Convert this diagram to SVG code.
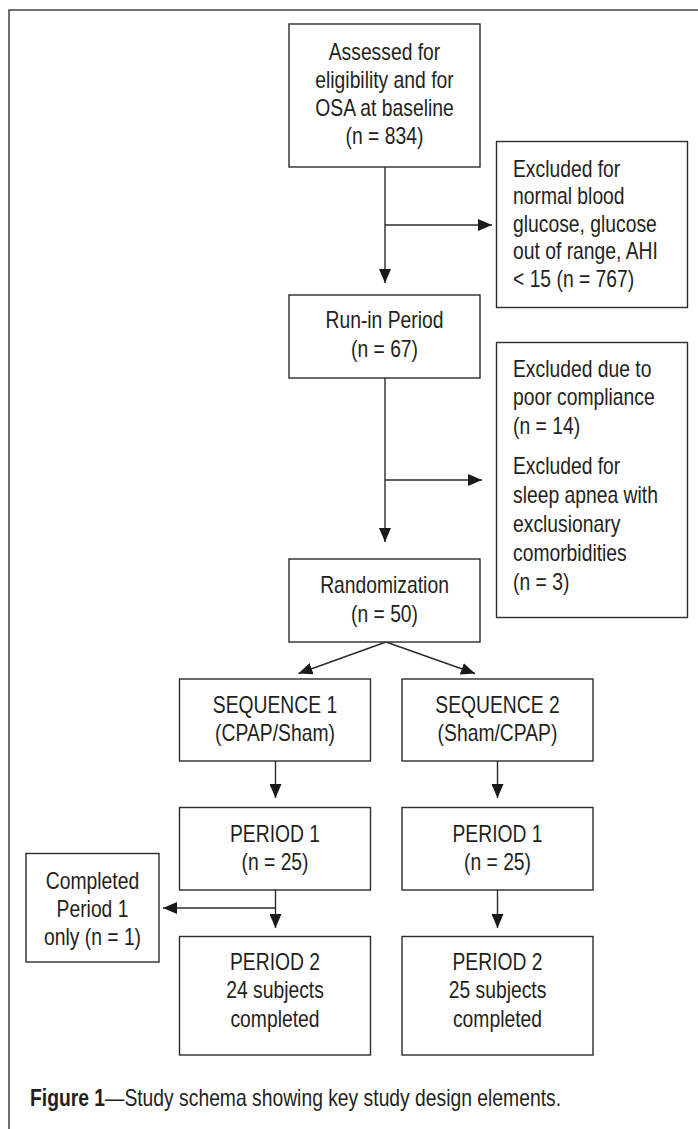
<svg xmlns="http://www.w3.org/2000/svg" width="698" height="1129" viewBox="0 0 698 1129">
<defs>
<style>
.box{fill:#fff;stroke:#2b2b2b;stroke-width:1.4}
.ln{fill:none;stroke:#2b2b2b;stroke-width:1.4}
.t{font-family:"Liberation Sans",Arial,sans-serif;font-size:23px;fill:#231f20}
.c{text-anchor:middle}
.cap{font-family:"Liberation Sans",Arial,sans-serif;font-size:23px;fill:#231f20}
.b{font-weight:bold}
</style>
<marker id="ah" viewBox="0 0 14 12" refX="14" refY="6" markerWidth="14" markerHeight="12" markerUnits="userSpaceOnUse" orient="auto">
<path d="M0,0 L14,6 L0,12 z" fill="#1a1a1a"/>
</marker>
</defs>
<rect width="698" height="1129" fill="#fff"/>
<rect id="frame" x="9" y="10" width="720" height="1140" fill="none" stroke="#333" stroke-width="1.4"/>

<g id="connectors">
<line class="ln" x1="385" y1="167" x2="385" y2="283" marker-end="url(#ah)"/>
<line class="ln" x1="385" y1="225" x2="492" y2="225" marker-end="url(#ah)"/>
<line class="ln" x1="385" y1="378" x2="385" y2="542" marker-end="url(#ah)"/>
<line class="ln" x1="385" y1="480" x2="482" y2="480" marker-end="url(#ah)"/>
<line class="ln" x1="386" y1="642" x2="298.5" y2="673.5" marker-end="url(#ah)"/>
<line class="ln" x1="386" y1="642" x2="475" y2="673.5" marker-end="url(#ah)"/>
<line class="ln" x1="275.5" y1="761" x2="275.5" y2="798" marker-end="url(#ah)"/>
<line class="ln" x1="497.5" y1="761" x2="497.5" y2="798" marker-end="url(#ah)"/>
<line class="ln" x1="275.5" y1="890" x2="275.5" y2="928" marker-end="url(#ah)"/>
<line class="ln" x1="497.5" y1="890" x2="497.5" y2="928" marker-end="url(#ah)"/>
<line class="ln" x1="275.5" y1="908" x2="163" y2="908" marker-end="url(#ah)"/>
</g>

<g id="assessed">
<rect class="box" x="289" y="24" width="191" height="143"/>
<text class="t c" transform="translate(384.5,60) scale(0.84,1)"><tspan x="0" y="0">Assessed for</tspan><tspan x="0" y="28">eligibility and for</tspan><tspan x="0" y="56">OSA at baseline</tspan><tspan x="0" y="84">(n = 834)</tspan></text>
</g>

<g id="excluded1">
<rect class="box" x="496.5" y="141.5" width="191" height="166"/>
<text class="t" transform="translate(513,177) scale(0.84,1)"><tspan x="0" y="0">Excluded for</tspan><tspan x="0" y="27.5">normal blood</tspan><tspan x="0" y="55">glucose, glucose</tspan><tspan x="0" y="82.5">out of range, AHI</tspan><tspan x="0" y="110">&lt; 15 (n = 767)</tspan></text>
</g>

<g id="runin">
<rect class="box" x="289" y="295" width="191" height="83"/>
<text class="t c" transform="translate(384.5,328) scale(0.84,1)"><tspan x="0" y="0">Run-in Period</tspan><tspan x="0" y="29">(n = 67)</tspan></text>
</g>

<g id="excluded2">
<rect class="box" x="496.5" y="342.5" width="191" height="275"/>
<text class="t" transform="translate(513,377) scale(0.84,1)"><tspan x="0" y="0">Excluded due to</tspan><tspan x="0" y="28.5">poor compliance</tspan><tspan x="0" y="57">(n = 14)</tspan><tspan x="0" y="97">Excluded for</tspan><tspan x="0" y="126">sleep apnea with</tspan><tspan x="0" y="155">exclusionary</tspan><tspan x="0" y="184">comorbidities</tspan><tspan x="0" y="213">(n = 3)</tspan></text>
</g>

<g id="randomization">
<rect class="box" x="289" y="559" width="191" height="83"/>
<text class="t c" transform="translate(384.5,593) scale(0.84,1)"><tspan x="0" y="0">Randomization</tspan><tspan x="0" y="29">(n = 50)</tspan></text>
</g>

<g id="seq1">
<rect class="box" x="179.5" y="679" width="191" height="82"/>
<text class="t c" transform="translate(275,713) scale(0.84,1)"><tspan x="0" y="0">SEQUENCE 1</tspan><tspan x="0" y="28">(CPAP/Sham)</tspan></text>
</g>

<g id="seq2">
<rect class="box" x="402" y="679" width="191" height="82"/>
<text class="t c" transform="translate(497.5,713) scale(0.84,1)"><tspan x="0" y="0">SEQUENCE 2</tspan><tspan x="0" y="28">(Sham/CPAP)</tspan></text>
</g>

<g id="p1a">
<rect class="box" x="179.5" y="807.5" width="191" height="82.5"/>
<text class="t c" transform="translate(275,841.5) scale(0.84,1)"><tspan x="0" y="0">PERIOD 1</tspan><tspan x="0" y="28.5">(n = 25)</tspan></text>
</g>

<g id="p1b">
<rect class="box" x="402" y="807.5" width="191" height="82.5"/>
<text class="t c" transform="translate(497.5,841.5) scale(0.84,1)"><tspan x="0" y="0">PERIOD 1</tspan><tspan x="0" y="28.5">(n = 25)</tspan></text>
</g>

<g id="completed">
<rect class="box" x="26" y="853.5" width="133" height="108.5"/>
<text class="t c" transform="translate(92.5,888.5) scale(0.84,1)"><tspan x="0" y="0">Completed</tspan><tspan x="0" y="28.5">Period 1</tspan><tspan x="0" y="57">only (n = 1)</tspan></text>
</g>

<g id="p2a">
<rect class="box" x="179.5" y="936.5" width="191" height="118.5"/>
<text class="t c" transform="translate(275,970) scale(0.84,1)"><tspan x="0" y="0">PERIOD 2</tspan><tspan x="0" y="28.5">24 subjects</tspan><tspan x="0" y="57">completed</tspan></text>
</g>

<g id="p2b">
<rect class="box" x="402" y="936.5" width="191" height="118.5"/>
<text class="t c" transform="translate(497.5,970) scale(0.84,1)"><tspan x="0" y="0">PERIOD 2</tspan><tspan x="0" y="28.5">25 subjects</tspan><tspan x="0" y="57">completed</tspan></text>
</g>

<g id="caption">
<text class="cap" transform="translate(30,1106) scale(0.84,1)"><tspan class="b">Figure 1</tspan>—Study schema showing key study design elements.</text>
</g>
</svg>
